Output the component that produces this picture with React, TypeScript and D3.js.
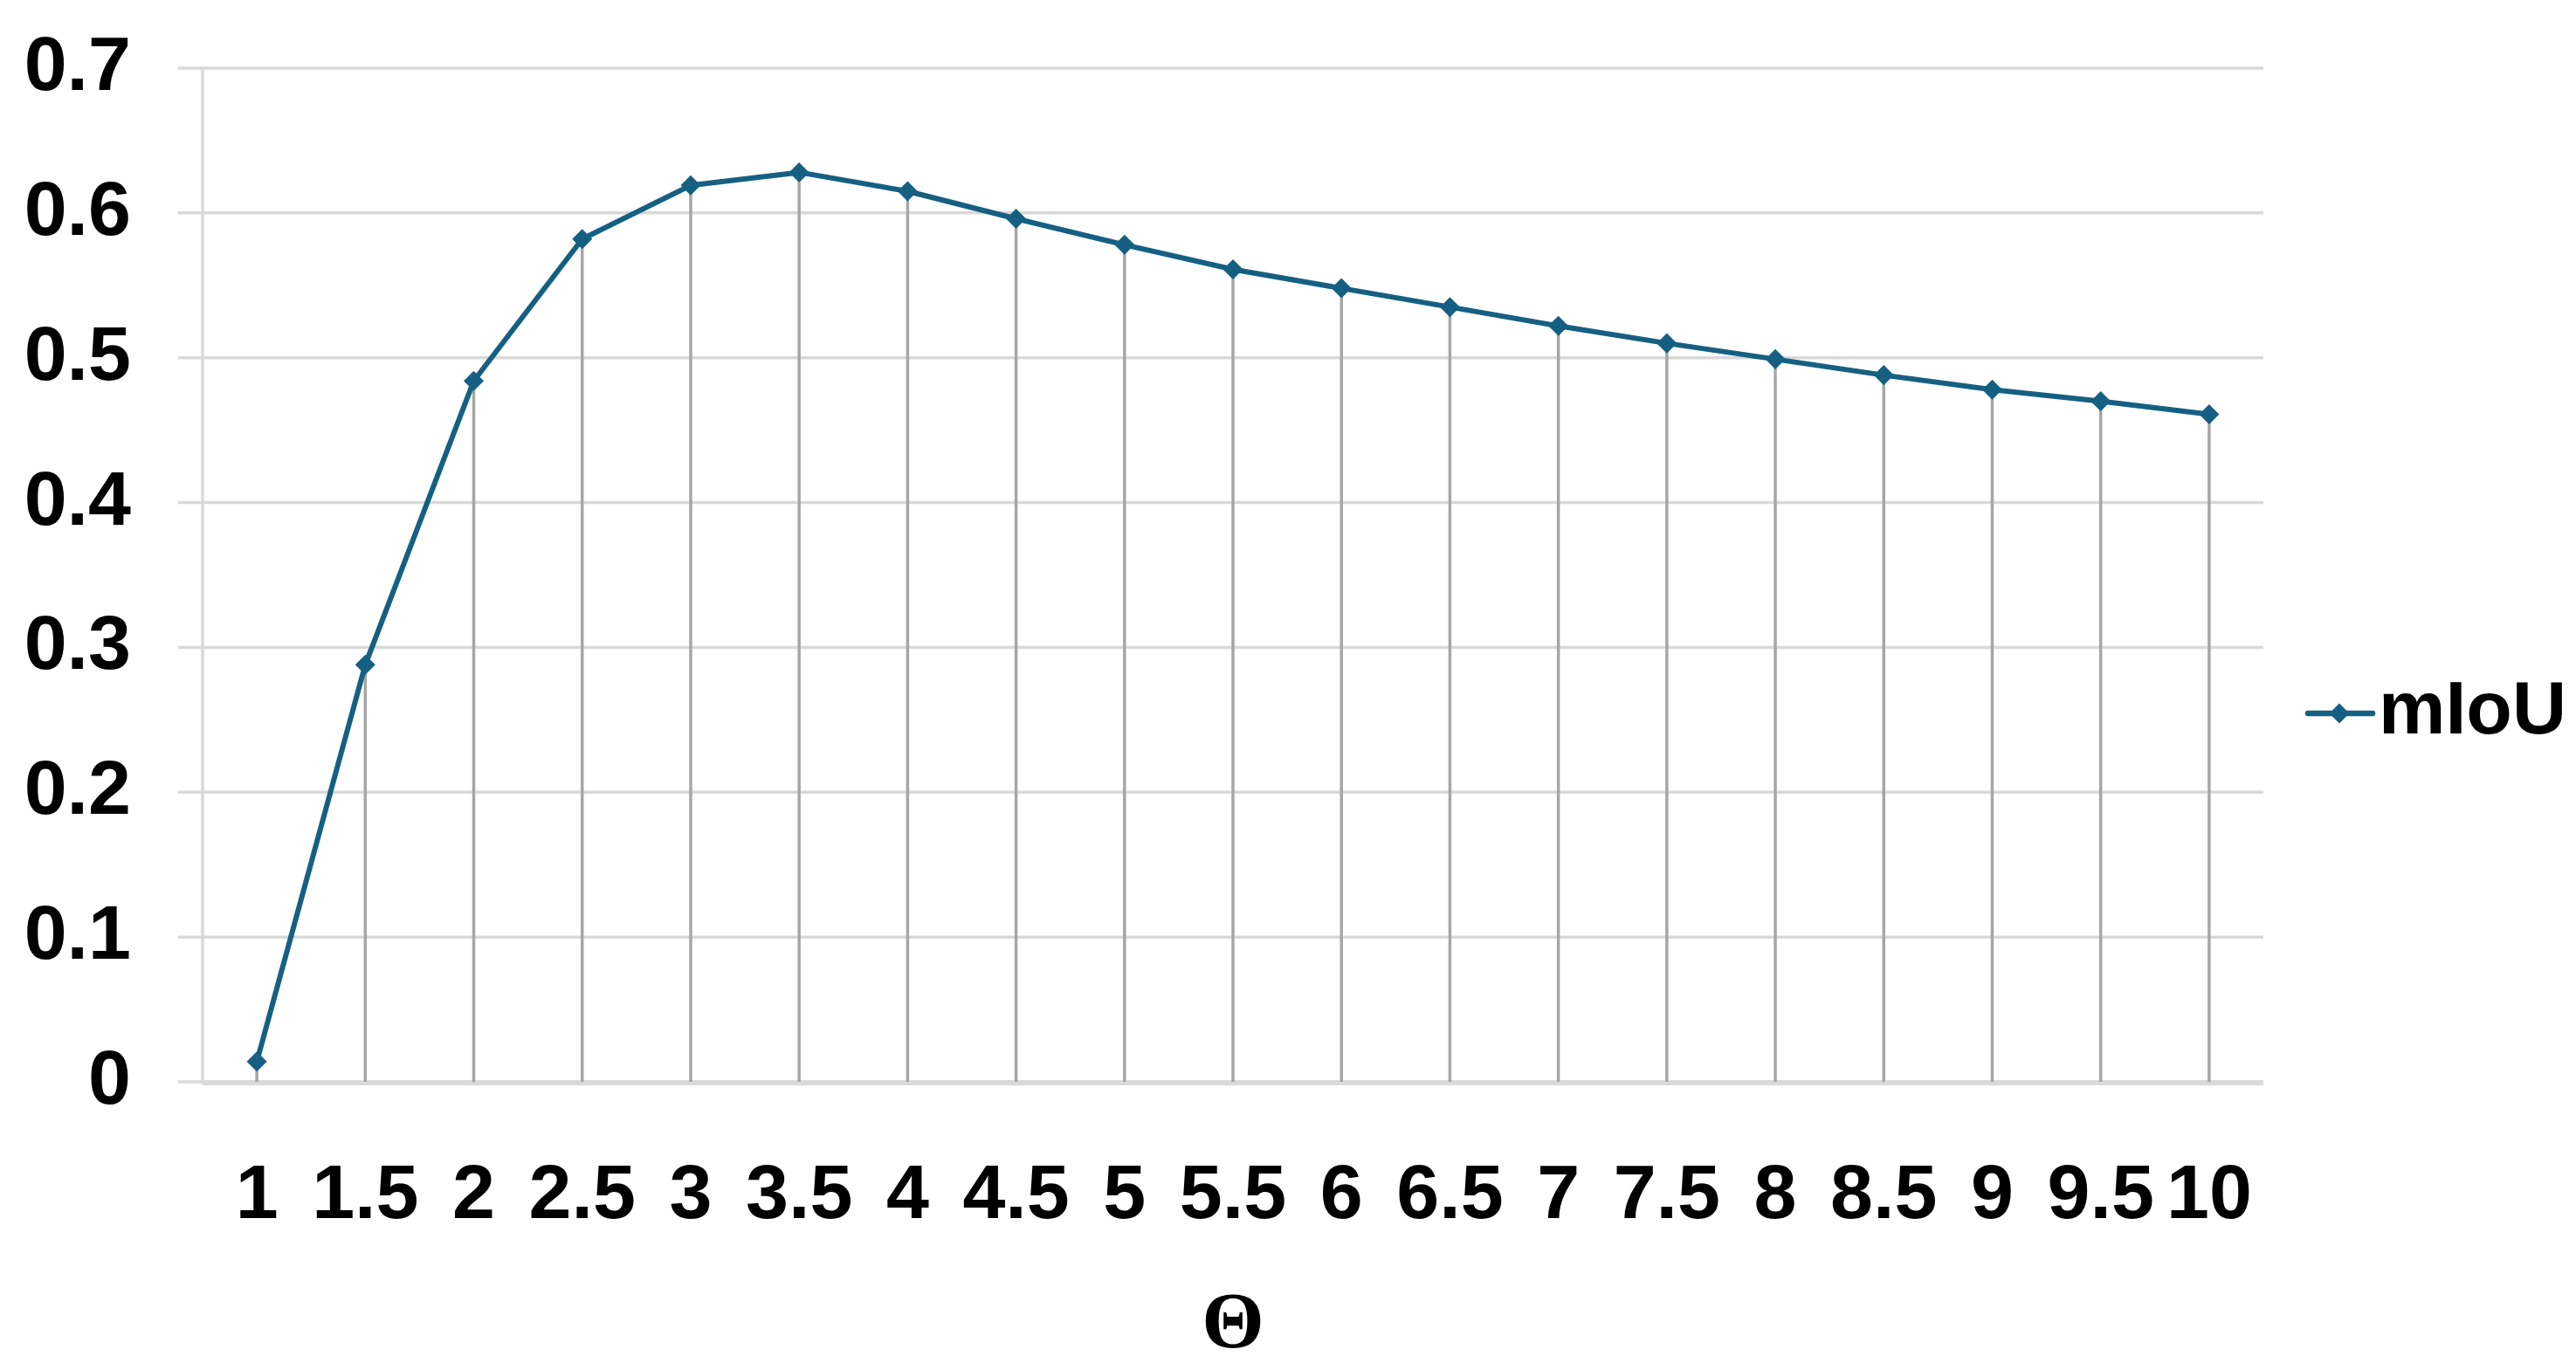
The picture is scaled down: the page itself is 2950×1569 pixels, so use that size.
import React from "react";
import * as d3 from "d3";

// theta values on the category axis
const thetaLabels = ["1", "1.5", "2", "2.5", "3", "3.5", "4", "4.5", "5", "5.5", "6", "6.5", "7", "7.5", "8", "8.5", "9", "9.5", "10"];
// mIoU for each theta
const miouValues = [0.014, 0.288, 0.484, 0.582, 0.619, 0.628, 0.615, 0.596, 0.578, 0.561, 0.548, 0.535, 0.522, 0.51, 0.499, 0.488, 0.478, 0.47, 0.461];
const yTicks = [0, 0.1, 0.2, 0.3, 0.4, 0.5, 0.6, 0.7];
const seriesName = "mIoU";
const xTitle = "Θ";

const W = 2950;
const H = 1569;
const LINE = "#156082";
const FONT = "'Liberation Sans', Arial, sans-serif";

export default function App() {
  const left = 232;
  const right = 2592;
  const top = 78;
  const bottom = 1239;

  const x = d3.scaleBand<string>().domain(thetaLabels).range([left, right]);
  const cx = (d: string) => (x(d) as number) + x.bandwidth() / 2;
  const y = d3.scaleLinear().domain([0, 0.7]).range([bottom, top]);

  const data = thetaLabels.map((t, i) => ({ t, v: miouValues[i] }));

  const line = d3
    .line<{ t: string; v: number }>()
    .x((d) => cx(d.t))
    .y((d) => y(d.v));

  // rotated square = excel diamond marker
  const diamond = d3.symbol().type(d3.symbolSquare).size(265)();

  return (
    <svg
      width={W}
      height={H}
      style={{ position: "absolute", left: 0, top: 0, background: "#fff" }}
    >
      {/* horizontal gridlines */}
      {yTicks.map((t) => (
        <line
          key={"g" + t}
          x1={left - 28}
          x2={right}
          y1={y(t)}
          y2={y(t)}
          stroke="#D9D9D9"
          strokeWidth={3.5}
        />
      ))}
      {/* value axis line */}
      <line x1={left} x2={left} y1={top} y2={bottom} stroke="#D9D9D9" strokeWidth={3.5} />
      {/* category axis line */}
      <line x1={left} x2={right} y1={bottom + 1} y2={bottom + 1} stroke="#D9D9D9" strokeWidth={6} />

      {/* drop lines */}
      {data.map((d) => (
        <line
          key={"dl" + d.t}
          x1={cx(d.t)}
          x2={cx(d.t)}
          y1={y(d.v)}
          y2={bottom}
          stroke="#A6A6A6"
          strokeWidth={3.5}
        />
      ))}

      <path d={line(data) || ""} fill="none" stroke={LINE} strokeWidth={6} strokeLinejoin="round" />
      {data.map((d) => (
        <path
          key={"m" + d.t}
          d={diamond || ""}
          transform={`translate(${cx(d.t)},${y(d.v)}) rotate(45)`}
          fill={LINE}
        />
      ))}

      {/* y tick labels */}
      {yTicks.map((t) => (
        <text
          key={"yl" + t}
          x={150}
          y={y(t) + 25}
          textAnchor="end"
          fontFamily={FONT}
          fontWeight="bold"
          fontSize={88}
          fill="#000"
        >
          {String(t)}
        </text>
      ))}

      {/* x tick labels */}
      {thetaLabels.map((t) => (
        <text
          key={"xl" + t}
          x={cx(t)}
          y={1395}
          textAnchor="middle"
          fontFamily={FONT}
          fontWeight="bold"
          fontSize={88}
          fill="#000"
        >
          {t}
        </text>
      ))}

      {/* axis title */}
      <text
        x={(left + right) / 2}
        y={1543}
        textAnchor="middle"
        fontFamily="'Liberation Serif', serif"
        fontWeight="bold"
        fontSize={92}
        fill="#000"
      >
        {xTitle}
      </text>

      {/* legend */}
      <g>
        <line x1={2643} x2={2717} y1={817} y2={817} stroke={LINE} strokeWidth={6.5} strokeLinecap="round" />
        <path d={diamond || ""} transform="translate(2679,817) rotate(45)" fill={LINE} />
        <text x={2724} y={840} fontFamily={FONT} fontWeight="bold" fontSize={86} fill="#000">
          {seriesName}
        </text>
      </g>
    </svg>
  );
}
